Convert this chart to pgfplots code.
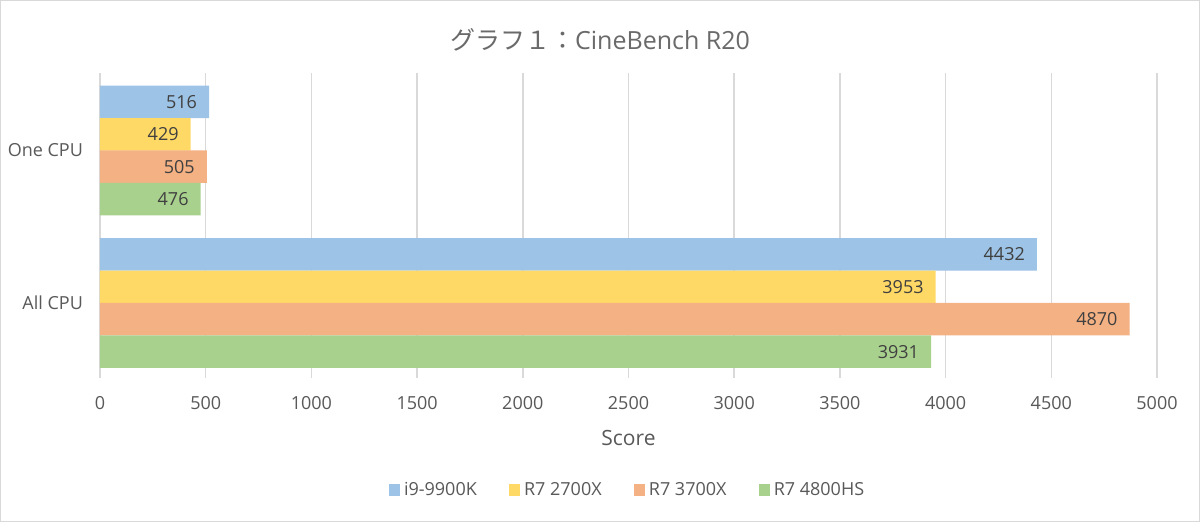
\documentclass[border=0pt]{standalone}
\usepackage{pgfplots}
\pgfplotsset{compat=1.18}
\usepackage{fontspec}
\setmainfont{Open Sans}
\newfontfamily\cjk{Noto Sans CJK JP}

\definecolor{cblue}{HTML}{9DC3E6}
\definecolor{cyellow}{HTML}{FFD966}
\definecolor{corange}{HTML}{F4B183}
\definecolor{cgreen}{HTML}{A9D18E}
\definecolor{txtgray}{HTML}{595959}
\definecolor{lbl}{HTML}{404040}
\definecolor{gridgray}{HTML}{D9D9D9}

\pgfplotsset{
  sq legend/.style={legend image code/.code={\fill[##1] (0pt,-2.8pt) rectangle (5.6pt,2.8pt);}},
  % bars sit 0.2125 units apart; one unit is 147.5pt/1.934
  cpubar/.style={xbar, bar width=0.2125, draw=none, sq legend,
    nodes near coords,
    every node near coord/.append style={anchor=east, xshift=-2.5pt, yshift=#1,
      font=\fontsize{9}{10}\selectfont, text=lbl}},
}

\begin{document}
\begin{tikzpicture}
\path[use as bounding box] (0pt,0pt) rectangle (600pt,261pt);
\fill[white] (0pt,0pt) rectangle (600pt,261pt);
\draw[gridgray, line width=0.6pt] (0.3pt,0.3pt) rectangle (599.7pt,260.7pt);
\node[font=\fontsize{12.5}{14}\selectfont, text=txtgray!90] at (300pt,241pt)
  {{\cjk グラフ１：}CineBench R20};
\begin{axis}[
  at={(50pt,77pt)}, anchor=south west,
  scale only axis, width=528.5pt, height=147.5pt,
  xmin=0, xmax=5000, ymin=-0.426, ymax=1.508,
  xtick={0,500,...,5000}, ytick={0,1}, yticklabels={All CPU, One CPU},
  xtick pos=bottom,
  axis line style={draw=none},
  xmajorgrids, grid style={gridgray, line width=0.8pt},
  tick align=outside, major tick length=5pt,
  xtick style={gridgray, line width=0.8pt}, ytick style={draw=none},
  /pgf/number format/1000 sep={},
  /pgf/number format/assume math mode=true,
  ticklabel style={font=\fontsize{9}{10}\selectfont, text=txtgray},
  xticklabel style={yshift=-5.5pt},
  yticklabel style={xshift=0pt},
  xlabel={Score},
  xlabel style={at={(axis description cs:0.5,-0.237)}, anchor=center,
    font=\fontsize{10.5}{12}\selectfont, text=txtgray},
  legend style={at={(0.5,-0.4136)}, anchor=center, draw=none, fill=none,
    font=\fontsize{9}{10}\selectfont, text=txtgray,
    legend columns=4,
    /tikz/every even column/.append style={column sep=14pt}},
  legend cell align=left,
]
\addplot[cpubar=24.33pt, fill=cblue, bar shift=0.319] coordinates {(516,1) (4432,0)};
\addlegendentry{i9-9900K}
\addplot[cpubar=8.08pt, fill=cyellow, bar shift=0.106] coordinates {(429,1) (3953,0)};
\addlegendentry{R7 2700X}
\addplot[cpubar=-8.08pt, fill=corange, bar shift=-0.106] coordinates {(505,1) (4870,0)};
\addlegendentry{R7 3700X}
\addplot[cpubar=-24.33pt, fill=cgreen, bar shift=-0.319] coordinates {(476,1) (3931,0)};
\addlegendentry{R7 4800HS}
\end{axis}
\end{tikzpicture}
\end{document}
